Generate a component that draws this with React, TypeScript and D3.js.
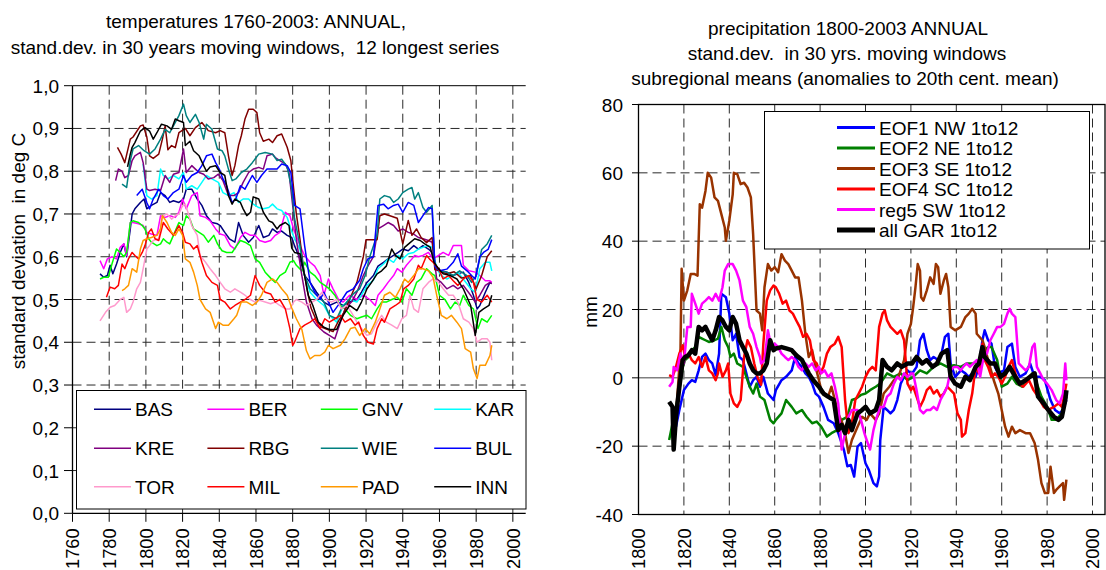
import React from "react";
import * as d3 from "d3";

type P = [number, number];
const FONT = "'Liberation Sans', Arial, Helvetica, sans-serif";

// ---------------- Left chart: temperature std.dev. ----------------
const tempNames = ["BAS", "BER", "GNV", "KAR", "KRE", "RBG", "WIE", "BUL", "TOR", "MIL", "PAD", "INN"];
const tempColors = ["#000080", "#FF00FF", "#00FF00", "#00FFFF", "#800080", "#800000", "#008080", "#0000FF", "#FF99CC", "#FF0000", "#FF9900", "#000000"];
const tempYTicks = [0, 0.1, 0.2, 0.3, 0.4, 0.5, 0.6, 0.7, 0.8, 0.9, 1.0];
const tempXTicks = [1760, 1780, 1800, 1820, 1840, 1860, 1880, 1900, 1920, 1940, 1960, 1980, 2000];

const BAS: P[] = [[1775,0.56],[1777,0.552],[1779,0.556],[1780.5,0.58],[1782,0.56],[1784,0.583],[1786,0.61],[1788,0.63],[1789.5,0.60],[1791.5,0.665],[1792.5,0.70],[1794,0.712],[1797,0.727],[1799,0.735],[1800.5,0.712],[1803,0.72],[1806,0.727],[1808,0.75],[1810.5,0.743],[1813,0.727],[1815,0.731],[1818,0.727],[1820.5,0.735],[1822,0.758],[1825,0.758],[1828,0.735],[1830.5,0.72],[1833,0.696],[1836,0.68],[1839,0.677],[1840.5,0.673],[1843,0.657],[1845.5,0.642],[1848.5,0.634],[1850.5,0.68],[1853,0.65],[1856,0.634],[1858.5,0.645],[1861.5,0.673],[1864,0.645],[1867,0.65],[1869,0.665],[1871.5,0.657],[1874,0.66],[1877,0.65],[1879.5,0.645],[1881,0.626],[1884,0.595],[1886.5,0.556],[1889.5,0.54],[1893,0.517],[1897,0.494],[1900,0.486],[1904,0.494],[1907.5,0.486],[1911,0.494],[1915,0.50],[1917.5,0.517],[1920.5,0.54],[1924,0.556],[1926.5,0.578],[1929.5,0.587],[1932,0.595],[1935,0.603],[1937.5,0.61],[1940,0.618],[1943,0.614],[1946,0.626],[1948.5,0.618],[1951,0.626],[1954,0.618],[1956,0.61],[1958.5,0.572],[1961,0.567],[1964,0.564],[1967.5,0.556],[1970,0.56],[1973,0.564],[1976,0.54],[1978.5,0.51],[1980.5,0.478],[1982,0.486],[1985,0.517],[1987.5,0.54],[1988.5,0.537]];
const BER: P[] = [[1775,0.591],[1777,0.572],[1779,0.595],[1781.5,0.60],[1784,0.595],[1786,0.622],[1788,0.63],[1789.5,0.603],[1791.5,0.68],[1793,0.68],[1796,0.677],[1798.5,0.673],[1800.5,0.657],[1803,0.653],[1806,0.65],[1808,0.696],[1810.5,0.692],[1813,0.696],[1816,0.692],[1818,0.704],[1820,0.735],[1822,0.712],[1825,0.743],[1828,0.75],[1829.5,0.696],[1832.5,0.692],[1835,0.684],[1838,0.665],[1840.5,0.653],[1843,0.65],[1846,0.626],[1848.5,0.618],[1851.5,0.645],[1854,0.657],[1857,0.65],[1859.5,0.65],[1862,0.638],[1865,0.634],[1868,0.638],[1870.5,0.65],[1873,0.657],[1876,0.704],[1878.5,0.696],[1880.5,0.665],[1884,0.626],[1886.5,0.603],[1889.5,0.587],[1892,0.578],[1895,0.556],[1897,0.51],[1899.5,0.548],[1902,0.525],[1905,0.50],[1907.5,0.494],[1911,0.51],[1915,0.50],[1918.5,0.51],[1922,0.50],[1925,0.486],[1926.5,0.51],[1929.5,0.525],[1932,0.54],[1935,0.556],[1937,0.572],[1939.5,0.564],[1942,0.58],[1945,0.595],[1946.5,0.603],[1948.5,0.60],[1951,0.603],[1954,0.61],[1956.5,0.595],[1959.5,0.603],[1962,0.61],[1965,0.603],[1967.5,0.626],[1970,0.626],[1972,0.626],[1973,0.58],[1976,0.567],[1979.5,0.564],[1982,0.556],[1985,0.544],[1987.5,0.544],[1988.5,0.54]];
const GNV: P[] = [[1775,0.548],[1777,0.552],[1779.5,0.552],[1781.5,0.583],[1784,0.618],[1786,0.61],[1788,0.60],[1789.5,0.61],[1791.5,0.68],[1793,0.684],[1796,0.68],[1798,0.673],[1799.5,0.665],[1801.5,0.642],[1803,0.634],[1806,0.626],[1808,0.63],[1809.5,0.642],[1811.5,0.634],[1813,0.63],[1815,0.65],[1818,0.68],[1820.5,0.673],[1822,0.696],[1824,0.688],[1826,0.665],[1829,0.657],[1831.5,0.65],[1834,0.634],[1837,0.65],[1839,0.63],[1841.5,0.614],[1844,0.61],[1847,0.61],[1849.5,0.626],[1851.5,0.638],[1854,0.634],[1857,0.626],[1859.5,0.595],[1862,0.587],[1865,0.564],[1868,0.55],[1870.5,0.54],[1873,0.556],[1876,0.564],[1878.5,0.587],[1880.5,0.591],[1882,0.58],[1885,0.567],[1886.5,0.587],[1889.5,0.564],[1892,0.556],[1895,0.54],[1897.5,0.533],[1900,0.525],[1903,0.51],[1906,0.486],[1908.5,0.478],[1911.5,0.463],[1915,0.455],[1917.5,0.459],[1920.5,0.463],[1923,0.455],[1926,0.478],[1928.5,0.494],[1931,0.494],[1934,0.50],[1937,0.505],[1939.5,0.494],[1942,0.525],[1945,0.51],[1947.5,0.54],[1950,0.548],[1953,0.572],[1956,0.56],[1957.5,0.556],[1960,0.51],[1963,0.50],[1966,0.478],[1968.5,0.494],[1971,0.486],[1973,0.51],[1976,0.486],[1978.5,0.478],[1981,0.432],[1983,0.455],[1986,0.447],[1988.5,0.463]];
const KAR: P[] = [[1798.5,0.817],[1800.5,0.743],[1803,0.735],[1806,0.743],[1808,0.805],[1809.5,0.79],[1812,0.782],[1815,0.79],[1818,0.782],[1820.5,0.797],[1822,0.758],[1825,0.766],[1828,0.758],[1830.5,0.774],[1833,0.79],[1836,0.782],[1839.5,0.774],[1842,0.75],[1845,0.743],[1848,0.75],[1850.5,0.727],[1853,0.735],[1856,0.735],[1858.5,0.723],[1861.5,0.715],[1864,0.712],[1867,0.715],[1869,0.723],[1871.5,0.712],[1874,0.708],[1877,0.692],[1879,0.665],[1881,0.642],[1884,0.618],[1886.5,0.556],[1889.5,0.517],[1893,0.50],[1897,0.486],[1900,0.463],[1904,0.447],[1907.5,0.486],[1911,0.50],[1915,0.494],[1917.5,0.51],[1920.5,0.533],[1924,0.545],[1926.5,0.572],[1929.5,0.583],[1932,0.595],[1935,0.587],[1937.5,0.603],[1940,0.595],[1943,0.607],[1946,0.61],[1948.5,0.618],[1951,0.622],[1954,0.626],[1956,0.622],[1958.5,0.572],[1961,0.556],[1964,0.548],[1967.5,0.556],[1970,0.564],[1973,0.548],[1977,0.525],[1979.5,0.517],[1982,0.572],[1985,0.587],[1987.5,0.587],[1988.5,0.567]];
const KRE: P[] = [[1783.5,0.778],[1785,0.805],[1787,0.80],[1788.5,0.785],[1790.5,0.79],[1792.5,0.825],[1794,0.836],[1797,0.844],[1798.5,0.82],[1800.5,0.758],[1802,0.755],[1805,0.758],[1808,0.755],[1810.5,0.79],[1813,0.774],[1815,0.793],[1818,0.797],[1820.5,0.852],[1822,0.797],[1825,0.813],[1827,0.805],[1829,0.797],[1831.5,0.793],[1834,0.782],[1837,0.785],[1839.5,0.793],[1842,0.778],[1845,0.743],[1848,0.743],[1850.5,0.75],[1853,0.774],[1856,0.797],[1858.5,0.805],[1861.5,0.809],[1864,0.805],[1866,0.836],[1869,0.84],[1870.5,0.832],[1873,0.825],[1876,0.817],[1878,0.797],[1880,0.72],[1882,0.64],[1885,0.556],[1887.5,0.494],[1890.5,0.455],[1893,0.44],[1897,0.424],[1900,0.416],[1903,0.408],[1906,0.447],[1908.5,0.478],[1912,0.494],[1915,0.517],[1918.5,0.556],[1921,0.578],[1924,0.60],[1926.5,0.665],[1929.5,0.673],[1932,0.68],[1935,0.673],[1937.5,0.66],[1940,0.665],[1943,0.657],[1946,0.653],[1948.5,0.645],[1951,0.642],[1954,0.638],[1956,0.634],[1958.5,0.548],[1961,0.54],[1964,0.525],[1967.5,0.533],[1970,0.525],[1973,0.533],[1977,0.51],[1979.5,0.494],[1982,0.51],[1985,0.533],[1987.5,0.54],[1988.5,0.537]];
const RBG: P[] = [[1784.5,0.856],[1786.5,0.84],[1788.5,0.82],[1791.5,0.875],[1793,0.88],[1797,0.906],[1798.5,0.908],[1800.5,0.88],[1802,0.836],[1804,0.83],[1807,0.84],[1809,0.875],[1810.5,0.906],[1812,0.85],[1814,0.86],[1816,0.855],[1818,0.89],[1821.5,0.90],[1824,0.883],[1827,0.902],[1830.5,0.914],[1834,0.895],[1838,0.89],[1840.5,0.895],[1843,0.89],[1845,0.836],[1847,0.79],[1848.5,0.813],[1850.5,0.86],[1852,0.883],[1854,0.922],[1856,0.945],[1858.5,0.945],[1860.5,0.937],[1862,0.89],[1864,0.87],[1867,0.875],[1869,0.867],[1871.5,0.883],[1874,0.887],[1877,0.856],[1879,0.825],[1880.5,0.76],[1882,0.70],[1884,0.64],[1886,0.57],[1888,0.52],[1890,0.48],[1893,0.45],[1896,0.435],[1899,0.43],[1902,0.425],[1905,0.45],[1908,0.47],[1911,0.50],[1913,0.52],[1915,0.54],[1918.5,0.60],[1920,0.64],[1924,0.64],[1926,0.64],[1927.5,0.696],[1930,0.70],[1933,0.696],[1937,0.69],[1940,0.63],[1943,0.685],[1945,0.65],[1947.5,0.665],[1950,0.645],[1953,0.633],[1956,0.645],[1957.5,0.57],[1960,0.567],[1964,0.56],[1968,0.565],[1972,0.55],[1977,0.556],[1980,0.525],[1983,0.556],[1986,0.60],[1988.5,0.614]];
const WIE: P[] = [[1787,0.77],[1789.5,0.762],[1791.5,0.825],[1793,0.852],[1796,0.86],[1799,0.848],[1800.5,0.844],[1802,0.84],[1805,0.852],[1808,0.875],[1810.5,0.898],[1813,0.89],[1815,0.906],[1818,0.93],[1820.5,0.957],[1822,0.93],[1824,0.914],[1827,0.933],[1829,0.914],[1831.5,0.875],[1833,0.91],[1836,0.898],[1839,0.852],[1841.5,0.848],[1843,0.836],[1845,0.805],[1847,0.778],[1849,0.782],[1852,0.797],[1855,0.805],[1858,0.82],[1861.5,0.84],[1865,0.844],[1869,0.84],[1871.5,0.825],[1874,0.828],[1877,0.81],[1879.5,0.758],[1881,0.69],[1884,0.626],[1886.5,0.556],[1889.5,0.525],[1893,0.51],[1897,0.494],[1900,0.463],[1904,0.455],[1906.5,0.478],[1909.5,0.494],[1913,0.513],[1916.5,0.525],[1919.5,0.556],[1922,0.60],[1926,0.65],[1927.5,0.735],[1930,0.743],[1933,0.739],[1935,0.727],[1937.5,0.735],[1940,0.75],[1943,0.758],[1945,0.762],[1946.5,0.735],[1948.5,0.75],[1951,0.715],[1953,0.704],[1956,0.72],[1957.5,0.578],[1960,0.567],[1964,0.564],[1967.5,0.556],[1971,0.567],[1975,0.556],[1977.5,0.54],[1980,0.556],[1983,0.617],[1986,0.63],[1988.5,0.65]];
const BUL: P[] = [[1795,0.743],[1798,0.758],[1800.5,0.727],[1802,0.712],[1804,0.735],[1807,0.758],[1809.5,0.743],[1812,0.735],[1815,0.75],[1818,0.758],[1820.5,0.79],[1822,0.774],[1825,0.79],[1828,0.797],[1830.5,0.813],[1833,0.836],[1836,0.84],[1838,0.82],[1840,0.805],[1842,0.782],[1844,0.766],[1847,0.727],[1849,0.735],[1851.5,0.766],[1854,0.758],[1858,0.79],[1860.5,0.774],[1863,0.79],[1866,0.805],[1869,0.805],[1871.5,0.805],[1874,0.817],[1877,0.813],[1879,0.797],[1881,0.72],[1884,0.712],[1886.5,0.626],[1889.5,0.54],[1892,0.517],[1895,0.50],[1897,0.517],[1899.5,0.494],[1902,0.47],[1906,0.494],[1909.5,0.517],[1913,0.525],[1916.5,0.545],[1918.5,0.572],[1921,0.595],[1924,0.60],[1926.5,0.72],[1929.5,0.723],[1932,0.712],[1935,0.72],[1937.5,0.723],[1940,0.704],[1943,0.727],[1946,0.72],[1948.5,0.68],[1951,0.696],[1954,0.715],[1956,0.712],[1957.5,0.578],[1960,0.567],[1964,0.571],[1967.5,0.587],[1970,0.607],[1972,0.578],[1975,0.567],[1977.5,0.556],[1979.5,0.548],[1982,0.60],[1984,0.61],[1986.5,0.617],[1988.5,0.64]];
const TOR: P[] = [[1775,0.45],[1778,0.47],[1780.5,0.482],[1783,0.486],[1786,0.50],[1788,0.505],[1789.5,0.47],[1791.5,0.478],[1793,0.494],[1795,0.525],[1797,0.54],[1798.5,0.572],[1800.5,0.618],[1802,0.626],[1804,0.638],[1807,0.642],[1809,0.696],[1811.5,0.70],[1814,0.688],[1816,0.696],[1818,0.70],[1820,0.72],[1821.5,0.723],[1823.5,0.696],[1825,0.673],[1828,0.65],[1829.5,0.603],[1832.5,0.587],[1835,0.572],[1838,0.556],[1840.5,0.54],[1843,0.525],[1846,0.517],[1848.5,0.525],[1851.5,0.517],[1854,0.51],[1857,0.50],[1859.5,0.494],[1862,0.498],[1865,0.494],[1868,0.49],[1870.5,0.494],[1873,0.486],[1876,0.478],[1878.5,0.478],[1880.5,0.494],[1882,0.50],[1885,0.494],[1887.5,0.486],[1890.5,0.494],[1893,0.50],[1896,0.517],[1898.5,0.50],[1901,0.494],[1904,0.50],[1906.5,0.478],[1909.5,0.486],[1912,0.47],[1915,0.447],[1917.5,0.432],[1920.5,0.416],[1923,0.42],[1926,0.447],[1928.5,0.463],[1931,0.447],[1934,0.44],[1937,0.432],[1939.5,0.455],[1942,0.463],[1944,0.51],[1946,0.478],[1948.5,0.47],[1951,0.525],[1954,0.54],[1956.5,0.548],[1959.5,0.54],[1962,0.525],[1965,0.51],[1967.5,0.51],[1970,0.494],[1973,0.455],[1976,0.447],[1978.5,0.432],[1980.5,0.40],[1983,0.408],[1986,0.408],[1987.5,0.40],[1988.5,0.358]];
const MIL: P[] = [[1778.5,0.505],[1780.5,0.529],[1783,0.525],[1785,0.533],[1787,0.583],[1788.5,0.572],[1790.5,0.595],[1792.5,0.61],[1794,0.603],[1796,0.595],[1798,0.61],[1799.5,0.626],[1801.5,0.657],[1803,0.665],[1805,0.642],[1807,0.638],[1809.5,0.68],[1812,0.665],[1815,0.65],[1818,0.673],[1820,0.657],[1821.5,0.634],[1824,0.63],[1826,0.618],[1828,0.626],[1830.5,0.587],[1833,0.556],[1836,0.54],[1839,0.533],[1840.5,0.50],[1843,0.494],[1846,0.478],[1848.5,0.486],[1851.5,0.494],[1854,0.50],[1857,0.51],[1859.5,0.556],[1862,0.533],[1865,0.517],[1868,0.513],[1870.5,0.494],[1873,0.50],[1876,0.478],[1878.5,0.432],[1880,0.393],[1881,0.40],[1884,0.432],[1886.5,0.44],[1889.5,0.447],[1892,0.455],[1895,0.432],[1897.5,0.455],[1900,0.447],[1903,0.455],[1906,0.463],[1908.5,0.447],[1911.5,0.455],[1914,0.44],[1916,0.447],[1918.5,0.416],[1921,0.40],[1924,0.396],[1926,0.432],[1928.5,0.455],[1930,0.447],[1933,0.478],[1936,0.486],[1938.5,0.494],[1940.5,0.525],[1943,0.533],[1946,0.548],[1948.5,0.58],[1950,0.572],[1953,0.603],[1954.5,0.595],[1956.5,0.587],[1959.5,0.572],[1962,0.548],[1965,0.556],[1967.5,0.544],[1970,0.533],[1973,0.548],[1976,0.556],[1978.5,0.54],[1980.5,0.50],[1983,0.494],[1986,0.51],[1988.5,0.494]];
const PAD: P[] = [[1787,0.521],[1788.5,0.525],[1790.5,0.533],[1792.5,0.572],[1795,0.564],[1797,0.618],[1798.5,0.638],[1800.5,0.642],[1803,0.645],[1806,0.65],[1808,0.665],[1809,0.696],[1811.5,0.68],[1814,0.657],[1816,0.65],[1818,0.665],[1820,0.65],[1821.5,0.595],[1824,0.587],[1826,0.564],[1828,0.533],[1829.5,0.50],[1832.5,0.478],[1835,0.47],[1838,0.432],[1839.5,0.447],[1842,0.44],[1845,0.44],[1848,0.455],[1849.5,0.463],[1852,0.494],[1855,0.494],[1858,0.486],[1860.5,0.494],[1863,0.51],[1866,0.54],[1869,0.548],[1871.5,0.54],[1874,0.525],[1877,0.51],[1879.5,0.48],[1882,0.455],[1885,0.43],[1887.5,0.38],[1889.5,0.361],[1892,0.369],[1895,0.369],[1897.5,0.377],[1899.5,0.393],[1902,0.385],[1906,0.393],[1908.5,0.408],[1911.5,0.432],[1914,0.435],[1916.5,0.416],[1919.5,0.432],[1922,0.42],[1925,0.447],[1927.5,0.478],[1930,0.51],[1933,0.517],[1936,0.505],[1938.5,0.525],[1941,0.548],[1943,0.54],[1946,0.556],[1948.5,0.572],[1951,0.572],[1954,0.567],[1956.5,0.552],[1958.5,0.51],[1961,0.463],[1964,0.455],[1966.5,0.463],[1969.5,0.447],[1972,0.432],[1974,0.385],[1977,0.377],[1978.5,0.338],[1980.5,0.315],[1982,0.346],[1985,0.346],[1987.5,0.369],[1988.5,0.393]];
const INN: P[] = [[1790,0.81],[1791.5,0.84],[1792.5,0.856],[1794,0.867],[1797,0.894],[1799.5,0.902],[1802,0.894],[1804,0.875],[1806,0.89],[1808.5,0.91],[1811.5,0.906],[1814,0.898],[1816,0.922],[1818,0.918],[1820.5,0.914],[1821.5,0.86],[1824,0.87],[1826,0.848],[1829,0.836],[1831.5,0.813],[1833,0.80],[1835,0.81],[1838,0.813],[1840.5,0.797],[1843,0.79],[1845,0.743],[1847,0.723],[1848.5,0.735],[1851.5,0.727],[1853,0.712],[1855,0.696],[1857,0.704],[1858.5,0.74],[1861.5,0.735],[1864,0.704],[1867,0.684],[1869,0.68],[1871.5,0.665],[1873,0.673],[1876,0.68],[1878,0.673],[1879.5,0.62],[1881,0.61],[1884,0.607],[1886.5,0.556],[1888.5,0.51],[1891,0.486],[1894,0.447],[1897,0.435],[1900,0.43],[1904,0.43],[1907.5,0.463],[1911,0.486],[1915,0.474],[1917.5,0.494],[1920.5,0.525],[1923,0.54],[1926,0.56],[1928.5,0.567],[1931,0.578],[1934,0.618],[1936,0.603],[1938.5,0.595],[1941,0.622],[1944,0.633],[1946.5,0.642],[1949.5,0.638],[1952,0.63],[1955,0.622],[1957,0.587],[1959.5,0.572],[1962,0.56],[1966,0.556],[1969.5,0.548],[1973,0.525],[1977,0.486],[1979.5,0.416],[1981.5,0.47],[1984,0.478],[1987,0.486],[1988.5,0.51]];
const tempData: P[][] = [BAS, BER, GNV, KAR, KRE, RBG, WIE, BUL, TOR, MIL, PAD, INN];

// ---------------- Right chart: precipitation std.dev. ----------------
const precNames = ["EOF1 NW 1to12", "EOF2 NE 1to12", "EOF3 SE 1to12", "EOF4 SC 1to12", "reg5 SW 1to12", "all GAR 1to12"];
const precColors = ["#0000FF", "#008000", "#993300", "#FF0000", "#FF00FF", "#000000"];
const precYTicks = [-40, -20, 0, 20, 40, 60, 80];
const precXTicks = [1800, 1820, 1840, 1860, 1880, 1900, 1920, 1940, 1960, 1980, 2000];

const EOF1: P[] = [[1816.5,-14.3],[1818,-9.4],[1820,-3.6],[1822,-1.7],[1823.5,-0.7],[1825,-1.2],[1826.5,2.2],[1828,6.1],[1829.5,7.1],[1831,5.2],[1832.5,4.2],[1834,0.8],[1835.5,7.1],[1836.5,24.6],[1838.5,23.6],[1840,18.8],[1841.5,11],[1843,12.9],[1844.5,6.1],[1846,5.2],[1847.5,1.3],[1849,-2.6],[1850.5,-0.7],[1852,0.3],[1853.5,-2.6],[1855,0.3],[1857,-4.6],[1859.5,-6.5],[1860.5,-3.6],[1863,-0.7],[1865,0.3],[1867.5,2.2],[1869,6.1],[1870.5,4.2],[1872,3.2],[1873.5,1.3],[1875,0.3],[1876.5,-1.7],[1878,-4.6],[1879.5,-5.5],[1881.5,-8.5],[1883.5,-12.3],[1886,-13.3],[1888,-16.2],[1890.5,-21.1],[1892,-25.9],[1893.5,-25.5],[1895,-28.9],[1896.5,-20.1],[1898,-19.1],[1900,-25],[1901.5,-27],[1903.5,-30.8],[1905,-31.8],[1906,-28.9],[1906.5,-18.2],[1908,-8.5],[1909.5,-9.4],[1911,-10.4],[1912.5,-9.4],[1914,-6.5],[1915.5,-1.7],[1917,0.3],[1918.5,2.2],[1920,1.3],[1921,1.7],[1922.5,3.2],[1924,11],[1925.5,12.9],[1927,8.1],[1928.5,5.2],[1930,6.1],[1932,5.2],[1933.5,7.1],[1935,12],[1936.5,12.9],[1937.5,4.2],[1939.5,0.3],[1942,2.2],[1944,1.3],[1945.5,0.3],[1947,1.3],[1948.5,0.3],[1950,3.2],[1951.5,11],[1952.5,13.9],[1954,11],[1955.5,10],[1957,3.2],[1958.5,1.3],[1961,2.2],[1962.5,9],[1964.5,10],[1966,3.2],[1968,0.3],[1970.5,1.3],[1972.5,4.2],[1974.5,0.3],[1977,0.3],[1979,-0.7],[1981.5,-6.5],[1983.5,-9.4],[1985.5,-10.4],[1987,-9.4],[1988.5,-6.5]];
const EOF2: P[] = [[1813.5,-18.2],[1815,-13.3],[1816.5,-8.5],[1818,-3.6],[1819.5,3.2],[1820.5,5.2],[1822,6.1],[1823.5,8.1],[1825,9],[1826.5,12],[1828,11.5],[1829.5,11],[1831,10.5],[1833.5,11],[1835,11.5],[1836.5,14.9],[1838,11],[1839.5,9],[1840.5,6.1],[1842,7.1],[1843.5,4.2],[1846,3.2],[1847.5,0.3],[1849,-2.6],[1850.5,-4.6],[1852,-1.7],[1853.5,-5.5],[1855.5,-6.5],[1858,-12.3],[1859.5,-13.3],[1860.5,-12.3],[1863,-10.4],[1865,-6.5],[1867.5,-8.5],[1869.5,-10.4],[1872,-9.4],[1874,-11.4],[1876.5,-13.3],[1878.5,-12.8],[1880.5,-14.3],[1883,-17.2],[1885,-16.2],[1887.5,-15.3],[1889.5,-12.3],[1892,-11.4],[1894,-6.5],[1896,-6],[1898,-5],[1900,-4.6],[1902,-3.6],[1904.5,-2.6],[1906.5,-1.7],[1909.5,1.3],[1912.5,0.3],[1915.5,1.3],[1918.5,-0.7],[1921,0.3],[1924,2.2],[1927,1.3],[1930,3.2],[1933,4.2],[1936,3.2],[1939,3.7],[1942,3.2],[1944.5,4.2],[1947.5,4.2],[1950.5,5.2],[1952.5,8.1],[1954,9],[1955.5,9],[1958,5.2],[1960,-2.6],[1962.5,-1.7],[1964.5,0.3],[1966.5,-1.7],[1969,-2.6],[1971,-0.7],[1973.5,1.3],[1975.5,-1.7],[1977.5,-5.5],[1980,-8.5],[1982,-12.3],[1984,-12.3],[1986.5,-10.4],[1988.5,-5.5]];
const EOF3: P[] = [[1816.5,-12],[1817,-6.5],[1818.5,8.1],[1819,31.9],[1820,22.6],[1821.5,25.6],[1823,30.4],[1824.5,30.4],[1826,29.9],[1827,50.8],[1828,49.8],[1829.5,54.7],[1830.5,60],[1832,58.6],[1833.5,52.8],[1835,51.8],[1836.5,47.9],[1838,44],[1838.5,40.1],[1840,46],[1841.5,53.7],[1842,60],[1843.5,59.6],[1845,56.7],[1846.5,57.1],[1848,55.7],[1849.5,52.8],[1850.5,42],[1852,19.7],[1853.5,18.8],[1854.5,13.9],[1855.5,26.5],[1857,33.3],[1858.5,31.4],[1860,32.4],[1861.5,30.9],[1863,36.2],[1864.5,34.3],[1866,33.3],[1867.5,31.4],[1869,29.4],[1870.5,29.4],[1872,22.6],[1873.5,12.9],[1875,6.1],[1876.5,8.1],[1878,3.2],[1879.5,-0.7],[1880.5,-3.6],[1882,-4.6],[1883.5,-5.5],[1885,-2.6],[1886.5,-6.5],[1888,-10.4],[1890.5,-14.3],[1892.5,-22],[1894,-18.2],[1896.5,-14.3],[1898.5,-11.4],[1900.5,-12.3],[1902,-10.4],[1904.5,-12.3],[1906,-10.4],[1908,-4.6],[1910.5,-2.6],[1912.5,-0.7],[1914.5,0.3],[1917,5.2],[1918.5,12.9],[1920,15.8],[1921,20.7],[1922,26.5],[1923,33.3],[1924,31.4],[1924.5,23.6],[1925.5,22.6],[1927,25.6],[1928.5,29.4],[1930,27.5],[1931,33.3],[1932,32.4],[1933,24.6],[1934.5,28.5],[1935.5,30.4],[1936.5,26.5],[1937.5,14.9],[1939.5,13.9],[1942,14.9],[1944,17.8],[1945.5,18.8],[1947,20.2],[1948.5,18.8],[1949,12.9],[1951.5,11],[1952.5,9],[1954,5.2],[1956.5,-0.7],[1958.5,-4.6],[1960,-9.4],[1961.5,-14.3],[1963,-17.2],[1964.5,-14.3],[1966,-16.2],[1968,-15.3],[1970.5,-16.2],[1972.5,-16.2],[1974.5,-19.1],[1976,-24],[1977.5,-30.8],[1979,-33.7],[1980.5,-33.7],[1981.5,-26],[1983,-33.7],[1984,-32.8],[1985.5,-31.8],[1987,-30.8],[1987.5,-35.7],[1988.5,-29.8]];
const EOF4: P[] = [[1813.5,0.8],[1815,0.3],[1816.5,3.2],[1818,7.1],[1819.5,9.5],[1820.5,6.1],[1822,7.1],[1823.5,5.2],[1825,4.2],[1826.5,6.1],[1828,3.2],[1829.5,6.1],[1831,2.2],[1832.5,1.3],[1834,-0.7],[1835,1.3],[1835.5,4.2],[1837,0.3],[1838.5,2.2],[1839.5,4.2],[1840.5,-4.6],[1842,-7.5],[1843.5,-8.5],[1845,-6.5],[1846.5,6.1],[1848,11],[1849.5,9],[1851,4.2],[1852.5,0],[1854,-2],[1855,10],[1856.5,22.6],[1858,25.6],[1859.5,27],[1860.5,26.5],[1862,24.6],[1863.5,21.7],[1865,22.6],[1866.5,19.7],[1868,18.8],[1869.5,16.8],[1871,14.9],[1872.5,12],[1874,12.9],[1875.5,11],[1877,5.2],[1878.5,4.2],[1880,1.3],[1881.5,3.2],[1883,7.1],[1884.5,9],[1886.5,10],[1888,12],[1889.5,9],[1891,-6.5],[1892.5,-16.2],[1894,-13.3],[1895.5,-6.5],[1897,-4.6],[1898.5,-2.6],[1900,0.3],[1901.5,2.2],[1903,3.2],[1904.5,2.2],[1906,14.9],[1907.5,18.8],[1908.5,19.7],[1909.5,16.8],[1911,14.9],[1912.5,13.9],[1914,12.9],[1915.5,13.9],[1917,11],[1918.5,-1.7],[1920,-3.6],[1921,-2.6],[1922.5,-5.5],[1924,-8.5],[1925.5,-6.5],[1927,-3.6],[1928.5,-2.6],[1930,-4.6],[1931.5,-3.6],[1933,-5.5],[1934.5,-4.6],[1936,-2.6],[1937.5,-3.6],[1939,-4.6],[1940.5,-10.4],[1942,-12.3],[1942.5,-17.2],[1944,-16.2],[1945.5,-9.4],[1947,-4.6],[1948.5,3.2],[1950,1.3],[1951.5,10],[1952.5,5.2],[1954,3.2],[1955.5,0.3],[1957,1.3],[1958.5,0.3],[1960,-1.7],[1961.5,0.3],[1963,3.2],[1964.5,5.2],[1966,1.3],[1967.5,-1.7],[1969.5,-2.6],[1972,-0.7],[1974,-3.6],[1976,-5.5],[1978.5,-8.5],[1980.5,-9.4],[1983,-8.5],[1985,-7.5],[1986.5,-8.5],[1988,-3.6],[1988.5,-1.7]];
const REG5: P[] = [[1813.5,-2.6],[1815,-1.2],[1815.5,3.2],[1817,2.2],[1818.5,7.1],[1820,4.2],[1821.5,14.9],[1823,14.9],[1823.5,24.6],[1825,21.7],[1826.5,18.8],[1828,21.7],[1829.5,22.6],[1831,23.6],[1832.5,22.6],[1834,24.6],[1835.5,22.6],[1837,26.5],[1838,31.4],[1839.5,33.3],[1841.5,33.3],[1843,31.4],[1844.5,28.5],[1846,22.6],[1847.5,20.7],[1849,14.9],[1850.5,12.9],[1852,9],[1853.5,6.1],[1854,4.2],[1855.5,5.2],[1857,13.9],[1858.5,9],[1860,10],[1861.5,9],[1863,7.1],[1864.5,6.1],[1866,5.2],[1867.5,6.1],[1869,5.2],[1870.5,3.2],[1872,2.2],[1873.5,4.2],[1875,3.2],[1876.5,4.2],[1878,2.2],[1879.5,3.2],[1880.5,1.3],[1882,2.2],[1883.5,0.3],[1885,1.3],[1886.5,-2.6],[1888,-7.5],[1889.5,-21],[1891,-16.2],[1892.5,-11.4],[1894,-9.4],[1896.5,-9.4],[1898,-12.3],[1899.5,-16.2],[1900.5,-18.2],[1902,-21],[1903.5,-15.3],[1905,-11.4],[1906.5,-8.5],[1908,-8.5],[1909.5,-5.5],[1911,-4.6],[1912.5,-1.7],[1914,0.3],[1915.5,-0.7],[1917,1.3],[1918.5,0.3],[1920,1.3],[1921,1.3],[1922.5,-3.6],[1924,-9.4],[1925.5,-10.4],[1927,-9.4],[1928.5,-9.4],[1930,-8.5],[1931.5,-9.4],[1933,-6.5],[1934.5,-4.6],[1936,-2.6],[1937.5,2.2],[1939,3.2],[1940.5,3.2],[1942,2.2],[1943,3.2],[1944.5,4.2],[1946,3.2],[1947.5,4.2],[1949,5.2],[1950.5,0.3],[1952,6.1],[1953.5,7.1],[1955,11],[1956.5,12.9],[1958,14.9],[1959.5,14.9],[1961,15.8],[1962.5,18.8],[1963.5,20.2],[1964.5,18.8],[1966,17.8],[1967.5,4.2],[1969,3.2],[1970.5,2.2],[1972,3.2],[1973.5,9],[1974.5,10],[1975.5,3.2],[1977,1.3],[1978.5,-0.7],[1980,-1.7],[1982,-3.6],[1984,-6.5],[1985.5,-7.5],[1987,-4.6],[1988,4.2],[1988.5,-0.7]];
const GAR: P[] = [[1813.5,-7],[1815,-8.5],[1815.5,-21],[1816.5,-11.4],[1818,-2.6],[1819.5,5.2],[1820.5,6.1],[1822,6.6],[1823.5,8.1],[1825,7.1],[1826.5,14.9],[1828,13.9],[1829.5,14.9],[1831,12.9],[1832.5,11],[1834,13.9],[1835.5,17.8],[1837,16.8],[1838.5,14.9],[1840,13.9],[1841.5,17.8],[1843,15.8],[1844.5,11],[1846,9],[1847.5,7.1],[1849,4.2],[1850.5,2.2],[1852,1.3],[1853.5,1.3],[1855,2.2],[1856.5,4.2],[1858,11],[1859.5,8.1],[1860.5,8.6],[1863,9],[1865,8.6],[1867.5,8.1],[1869.5,6.6],[1872,5.2],[1873.5,3.2],[1875,1.3],[1877,-0.7],[1879.5,-2.6],[1881.5,-4.6],[1883.5,-5.5],[1886,-6.5],[1888,-15.3],[1889.5,-13.8],[1891,-16.2],[1892.5,-12.3],[1894,-15.3],[1896.5,-10.4],[1898.5,-9.4],[1900,-8.5],[1902,-10.4],[1904.5,-9.4],[1906,-6.5],[1907.5,5.2],[1909.5,3.2],[1911.5,2.2],[1914,4.2],[1916,3.2],[1918.5,4.2],[1920.5,4.2],[1922.5,6.1],[1925,4.2],[1927,5.2],[1929.5,3.2],[1931.5,4.2],[1933.5,7.1],[1936,8.1],[1937.5,0.3],[1939.5,-1.7],[1942,-2.6],[1944,0.3],[1946,-0.7],[1948.5,3.2],[1950,4.2],[1951.5,9],[1952.5,6.1],[1955,4.2],[1957,4.2],[1959.5,0.3],[1961.5,1.3],[1963.5,3.2],[1966,0.3],[1968,-1.7],[1970.5,-0.7],[1972.5,0.3],[1974.5,1.3],[1976,-5.5],[1978.5,-7.5],[1980.5,-9.4],[1983,-11.4],[1985,-12.3],[1986.5,-11.4],[1988,-6.5],[1988.5,-3.6]];
const precData: P[][] = [EOF1, EOF2, EOF3, EOF4, REG5, GAR];

export default function App() {
  const xL = d3.scaleLinear().domain([1760, 2007]).range([72.5, 525.7]);
  const yL = d3.scaleLinear().domain([0, 1]).range([513.3, 85.7]);
  const xR = d3.scaleLinear().domain([1800, 2005.5]).range([638.5, 1105]);
  const yR = d3.scaleLinear().domain([-40, 80]).range([514.5, 104.5]);

  const lineL = d3.line<P>().x((d) => xL(d[0])).y((d) => yL(d[1]));
  const lineR = d3.line<P>().x((d) => xR(d[0])).y((d) => yR(d[1]));

  const [lx0, lx1] = xL.range();
  const [ly0, ly1] = yL.range();
  const [rx0, rx1] = xR.range();
  const [ry0, ry1] = yR.range();
  const dash = "9,5";
  const gridColor = "#2a2a2a";
  const fs = 19;
  const fsX = 18.2;
  const xLabTop = 528.5;

  return (
    <svg width={1106} height={570} style={{ position: "absolute", left: 0, top: 0, background: "#fff" }} fontFamily={FONT}>
      <rect x={0} y={0} width={1106} height={570} fill="#fff" />
      {/* ---------- LEFT ---------- */}
      <text x={256} y={28} fontSize={fs} textAnchor="middle">temperatures 1760-2003: ANNUAL,</text>
      <text x={255} y={53.5} fontSize={fs} textAnchor="middle" style={{ whiteSpace: "pre" }}>{"stand.dev. in 30 years moving windows,  12 longest series"}</text>
      <text transform={`translate(25,251) rotate(-90)`} fontSize={fs} textAnchor="middle" style={{ whiteSpace: "pre" }}>{"standard deviation  in deg C"}</text>

      {tempXTicks.filter((t) => t > 1760).map((t) => (
        <line key={"lvg" + t} x1={xL(t)} x2={xL(t)} y1={ly1} y2={ly0} stroke={gridColor} strokeDasharray={dash} strokeWidth={1} />
      ))}
      {tempYTicks.filter((t) => t > 0 && t < 1).map((t) => (
        <line key={"lhg" + t} x1={lx0} x2={lx1} y1={yL(t)} y2={yL(t)} stroke={gridColor} strokeDasharray={dash} strokeWidth={1} />
      ))}
      <line x1={lx0} x2={lx1} y1={ly1} y2={ly1} stroke="#000" strokeWidth={1} />

      {tempData.map((s, i) => (
        <path key={"ts" + i} d={lineL(s) || ""} fill="none" stroke={tempColors[i]} strokeWidth={1.5} strokeLinejoin="round" />
      ))}

      {/* axes */}
      <line x1={lx0} x2={lx0} y1={ly1} y2={ly0} stroke="#000" strokeWidth={1.3} />
      <line x1={lx0} x2={lx1} y1={ly0} y2={ly0} stroke="#000" strokeWidth={1.3} />
      {tempYTicks.map((t) => (
        <g key={"lyt" + t}>
          <line x1={lx0 - 8.5} x2={lx0} y1={yL(t)} y2={yL(t)} stroke="#000" strokeWidth={1} />
          <text x={59} y={yL(t) + 7} fontSize={fs} textAnchor="end">{t.toFixed(1).replace(".", ",")}</text>
        </g>
      ))}
      {tempXTicks.map((t) => (
        <g key={"lxt" + t}>
          <line x1={xL(t)} x2={xL(t)} y1={ly0} y2={ly0 + 8.5} stroke="#000" strokeWidth={1} />
          <text transform={`translate(${xL(t) + 6.7},${xLabTop}) rotate(-90)`} fontSize={fsX} textAnchor="end">{t}</text>
        </g>
      ))}

      {/* legend */}
      <rect x={76.5} y={390.5} width={449.5} height={118.5} fill="#fff" stroke="#000" strokeWidth={1} />
      {tempNames.map((n, i) => {
        const col = i % 4;
        const row = Math.floor(i / 4);
        const x = 94 + col * 113.4;
        const y = [409.3, 448.3, 486.7][row];
        return (
          <g key={"lg" + n}>
            <line x1={x} x2={x + 37} y1={y} y2={y} stroke={tempColors[i]} strokeWidth={1.5} />
            <text x={x + 41} y={y + 7} fontSize={fs}>{n}</text>
          </g>
        );
      })}

      {/* ---------- RIGHT ---------- */}
      <text x={848} y={34.5} fontSize={fs} textAnchor="middle">precipitation 1800-2003 ANNUAL</text>
      <text x={847} y={59.5} fontSize={fs} textAnchor="middle" style={{ whiteSpace: "pre" }}>{"stand.dev.  in 30 yrs. moving windows"}</text>
      <text x={845} y={84.5} fontSize={fs} textAnchor="middle">subregional means (anomalies to 20th cent. mean)</text>
      <text transform={`translate(597,312) rotate(-90)`} fontSize={fs} textAnchor="middle">mm</text>

      {precXTicks.filter((t) => t > 1800).map((t) => (
        <line key={"rvg" + t} x1={xR(t)} x2={xR(t)} y1={ry1} y2={ry0} stroke={gridColor} strokeDasharray={dash} strokeWidth={1} />
      ))}
      {precYTicks.filter((t) => t > -40 && t < 80 && t !== 0).map((t) => (
        <line key={"rhg" + t} x1={rx0} x2={rx1} y1={yR(t)} y2={yR(t)} stroke={gridColor} strokeDasharray={dash} strokeWidth={1} />
      ))}
      <line x1={rx0} x2={rx1} y1={yR(0)} y2={yR(0)} stroke="#808080" strokeWidth={1.5} />

      {precData.map((s, i) => (
        <path key={"ps" + i} d={lineR(s) || ""} fill="none" stroke={precColors[i]} strokeWidth={i === 5 ? 4.5 : 2.5} strokeLinejoin="round" />
      ))}

      <rect x={rx0} y={ry1} width={rx1 - rx0} height={ry0 - ry1} fill="none" stroke="#000" strokeWidth={1.3} />
      {precYTicks.map((t) => (
        <g key={"ryt" + t}>
          <line x1={rx0 - 6.5} x2={rx0} y1={yR(t)} y2={yR(t)} stroke="#000" strokeWidth={1} />
          <text x={623} y={yR(t) + 7} fontSize={fs} textAnchor="end">{t}</text>
        </g>
      ))}
      {precXTicks.map((t) => (
        <text key={"rxt" + t} transform={`translate(${xR(t) + 6.7},${xLabTop}) rotate(-90)`} fontSize={fsX} textAnchor="end">{t}</text>
      ))}

      {/* legend */}
      <rect x={764.5} y={111.5} width={325} height={137.5} fill="#fff" stroke="#000" strokeWidth={1} />
      {precNames.map((n, i) => {
        const y = 127.5 + i * 20.5;
        return (
          <g key={"pg" + i}>
            <line x1={837} x2={875} y1={y} y2={y} stroke={precColors[i]} strokeWidth={i === 5 ? 5 : 3} />
            <text x={879} y={y + 7} fontSize={fs}>{n}</text>
          </g>
        );
      })}
    </svg>
  );
}
